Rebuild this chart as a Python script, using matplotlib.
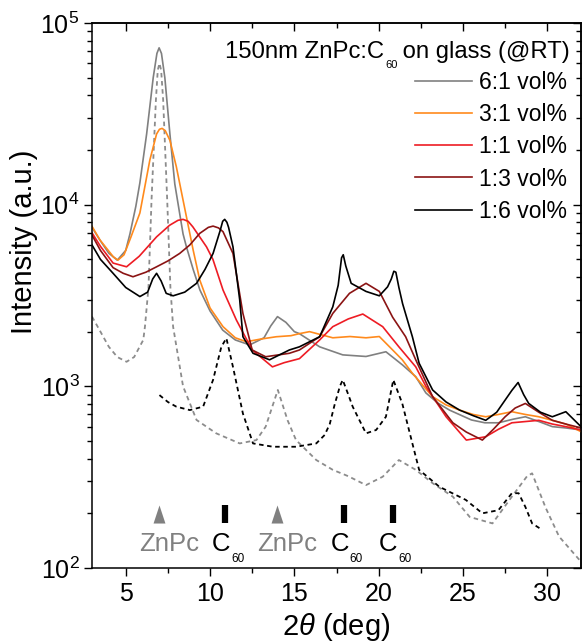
import numpy as np
import matplotlib
matplotlib.use("Agg")
import matplotlib.pyplot as plt
from matplotlib.ticker import AutoMinorLocator, LogLocator, NullFormatter
from matplotlib.path import Path
from matplotlib.transforms import offset_copy

plt.rcParams['font.family'] = ['Liberation Sans', 'DejaVu Sans']
plt.rcParams['mathtext.fontset'] = 'custom'
plt.rcParams['mathtext.rm'] = 'Liberation Sans'
plt.rcParams['mathtext.it'] = 'Liberation Sans:italic'
plt.rcParams['mathtext.bf'] = 'Liberation Sans:bold'

# ---------------- data ----------------
x_61 = [3, 3.47, 4.0, 4.5, 5.0, 5.25, 5.6, 5.84, 6.24, 6.63, 6.85, 6.98, 7.12, 7.32, 7.62, 7.91, 8.4, 8.6,
        9.0, 9.4, 10.0, 10.75, 11.5, 12.35, 13.2, 13.6, 14.0, 14.5, 15.0, 15.3, 16.5, 17.87, 19.25, 20.43,
        21.42, 22.2, 22.8, 23.5, 24.2, 25.5, 26.3, 27.1, 28.0, 28.7, 29.5, 30.3, 31.1, 32]
y_61 = [7500, 6380, 5400, 4950, 5600, 6900, 9800, 13200, 24500, 50000, 68000, 73000, 68000, 50000, 24500,
        13000, 6900, 5860, 4400, 3390, 2600, 2040, 1800, 1690, 1850, 2150, 2420, 2250, 2000, 1950, 1650,
        1490, 1460, 1550, 1310, 1130, 920, 810, 740, 653, 630, 630, 660, 680, 640, 600, 590, 575]

x_31 = [3, 3.47, 4.26, 4.54, 4.9, 5.3, 5.84, 6.43, 6.83, 7.0, 7.16, 7.35, 7.62, 8.0, 8.4, 9.0, 9.39, 10.0,
        10.77, 11.5, 12.15, 13.0, 13.93, 14.8, 15.3, 15.9, 17.28, 18.3, 19.25, 20.04, 20.83, 21.4, 22.0,
        23.2, 24.0, 24.8, 25.6, 26.35, 27.1, 27.9, 28.7, 29.5, 30.3, 31.1, 32]
y_31 = [7600, 6400, 5170, 4950, 5300, 6600, 9000, 17600, 24500, 26000, 26300, 25500, 22600, 16200, 10600,
        5620, 3850, 2700, 2130, 1850, 1760, 1820, 1875, 1900, 1950, 2000, 1850, 1880, 1850, 1880, 1585,
        1400, 1180, 877, 790, 740, 700, 680, 700, 725, 700, 680, 650, 620, 563]

x_11 = [3, 3.5, 4.25, 5.05, 5.8, 6.83, 7.6, 8.1, 8.4, 8.7, 8.98, 9.79, 10.17, 10.77, 11.56, 12.5, 13.7,
        14.4, 15.3, 16.5, 17.28, 18.2, 19.06, 20.24, 21.2, 22.2, 22.8, 24.0, 25.2, 26.35, 27.1, 27.9,
        28.7, 29.5, 30.3, 31.1, 32]
y_11 = [7000, 5900, 4770, 4550, 5200, 6650, 7700, 8200, 8300, 8100, 7550, 5860, 5000, 3390, 2320, 1585,
        1280, 1350, 1420, 1800, 2130, 2350, 2500, 2130, 1650, 1280, 1000, 680, 506, 528, 580, 630, 640,
        650, 620, 600, 575]

x_13 = [3, 3.5, 4.25, 4.85, 5.43, 6.2, 6.83, 7.5, 8.2, 8.8, 9.39, 9.9, 10.18, 10.5, 10.77, 11.36, 11.95,
        12.5, 13.3, 14.7, 15.3, 16.5, 17.28, 18.27, 19.25, 20.04, 20.83, 21.6, 22.2, 23.2, 24.4, 25.2,
        26.15, 26.8, 27.5, 28.1, 28.7, 29.5, 30.3, 31.1, 32]
y_13 = [6800, 5600, 4500, 4190, 4010, 4250, 4550, 4900, 5390, 6000, 6950, 7500, 7620, 7450, 7100, 5390,
        2520, 1585, 1455, 1520, 1585, 1875, 2520, 3250, 3690, 3330, 2400, 1875, 1400, 877, 630, 560, 506,
        580, 680, 760, 805, 720, 650, 620, 590]

x_16 = [3, 3.5, 4.25, 5.0, 5.84, 6.3, 6.6, 6.83, 7.1, 7.4, 7.81, 8.5, 9.2, 9.7, 10.18, 10.6, 10.75, 10.87,
        11.0, 11.1, 11.36, 11.76, 11.95, 12.55, 13.53, 14.7, 15.3, 16.5, 17.28, 17.6, 17.8, 17.9, 18.05,
        18.37, 19.25, 20.04, 20.53, 20.75, 20.9, 21.02, 21.2, 21.42, 22.0, 22.4, 23.2, 24.0, 24.8, 25.6,
        26.35, 27.0, 27.5, 27.9, 28.27, 28.6, 28.9, 29.6, 30.3, 31.1, 32]
y_16 = [6000, 5000, 4190, 3500, 3120, 3300, 3900, 4190, 3800, 3250, 3150, 3300, 3690, 4400, 5390, 7200,
        8100, 8300, 8000, 7500, 5860, 2990, 1875, 1520, 1400, 1585, 1650, 1875, 2740, 3600, 5100, 5300,
        4600, 3690, 3330, 3150, 3530, 3900, 4300, 4250, 3500, 2850, 1875, 1340, 955, 820, 740, 690, 650,
        720, 840, 950, 1050, 900, 805, 720, 680, 725, 600]

x_znpc_ref = [3, 3.5, 4.0, 4.5, 5.05, 5.5, 6.04, 6.14, 6.35, 6.53, 6.79, 6.9, 7.0, 7.1, 7.22, 7.46, 7.65,
              7.81, 8.4, 9.2, 10.37, 11.76, 12.75, 13.3, 14.02, 14.6, 15.1, 16.3, 17.28, 18.2, 19.25,
              20.24, 21.2, 22.2, 23.2, 24.4, 25.4, 26.75, 27.9, 28.8, 29.1, 29.9, 30.7, 31.9]
y_znpc_ref = [2420, 2000, 1650, 1450, 1365, 1450, 1800, 2130, 3500, 10600, 37700, 55000, 60000, 55000,
              37700, 10600, 3500, 2130, 1000, 653, 551, 485, 506, 600, 955, 650, 506, 393, 347, 320, 286,
              318, 393, 347, 293, 247, 191, 176, 247, 320, 332, 215, 149, 111]

x_c60_ref = [7.0, 7.5, 8.0, 8.8, 9.59, 10.18, 10.67, 10.97, 11.36, 11.95, 12.55, 13.73, 15.1, 16.3, 16.8,
             17.1, 17.4, 17.7, 17.87, 18.2, 18.46, 19.25, 19.85, 20.43, 20.87, 21.4, 22.0, 22.4, 23.6,
             25.17, 26.15, 27.1, 27.9, 28.3, 28.7, 29.1, 29.7]
y_c60_ref = [895, 820, 773, 740, 773, 1085, 1650, 1840, 1280, 708, 485, 465, 465, 485, 540, 620, 800,
             1000, 1085, 900, 773, 551, 575, 680, 1085, 805, 485, 347, 280, 237, 200, 208, 258, 258, 217,
             176, 162]

series_labels = ["6:1 vol%", "3:1 vol%", "1:1 vol%", "1:3 vol%", "1:6 vol%"]
title_parts = ["150nm ZnPc:C", "60", " on glass (@RT)"]
znpc_peaks = [7.0, 14.0]
c60_peaks = [10.9, 17.93, 20.83]
marker_level = 198
label_level = 124

# ---------------- figure ----------------
fig = plt.figure(figsize=(5.82, 6.44), dpi=100)
ax_w, ax_h = 581 - 92, 568 - 23
ax = fig.add_axes([92/582, 1-568/644, ax_w/582, ax_h/644])
ax.set_yscale('log')
ax.set_xlim(3, 32)
ax.set_ylim(1e2, 1e5)

lw = 1.2
ax.plot(x_znpc_ref, y_znpc_ref, color='#8c8c8c', lw=1.3, ls=(0, (2.5, 2)))
ax.plot(x_c60_ref, y_c60_ref, color='black', lw=1.3, ls=(0, (2.5, 2)))
h1, = ax.plot(x_61, y_61, color='#808080', lw=lw, label=series_labels[0])
h2, = ax.plot(x_31, y_31, color='#ff8a1c', lw=lw, label=series_labels[1])
h3, = ax.plot(x_11, y_11, color='#ee1c24', lw=lw, label=series_labels[2])
h4, = ax.plot(x_13, y_13, color='#8b1414', lw=lw, label=series_labels[3])
h5, = ax.plot(x_16, y_16, color='black', lw=lw, label=series_labels[4])

# peak markers
tri = Path([(-0.33, -0.5), (0.33, -0.5), (0, 0.5), (-0.33, -0.5)],
           [Path.MOVETO, Path.LINETO, Path.LINETO, Path.CLOSEPOLY])
ax.plot(znpc_peaks, [marker_level]*len(znpc_peaks), ls='none', marker=tri, ms=13,
        color='#808080', mec='none')
ax.plot(c60_peaks, [marker_level]*len(c60_peaks), ls='none', marker='|', ms=13,
        mew=4.5, color='black')
for p in znpc_peaks:
    ax.text(p + 0.6, label_level, "ZnPc", color='#808080', fontsize=18.5,
            ha='center', va='baseline')
for p in c60_peaks:
    ax.text(p, label_level, "C", color='black', fontsize=18.5, ha='right', va='baseline',
            transform=offset_copy(ax.transData, fig, x=5, y=0, units='dots'))
    ax.text(p, label_level, "60", color='black', fontsize=8.5, ha='left', va='baseline',
            transform=offset_copy(ax.transData, fig, x=6, y=-11, units='dots'))

# axes styling
for s in ax.spines.values():
    s.set_linewidth(1.1)
ax.xaxis.set_minor_locator(AutoMinorLocator(2))
ax.tick_params(which='both', direction='out', width=1.0, labelsize=18,
               top=False, right=False)
ax.tick_params(which='major', length=6)
ax.tick_params(which='minor', length=3.5)
ax.tick_params(axis='y', pad=3)
ax.tick_params(axis='x', pad=4)

secx = ax.secondary_xaxis('top')
secx.xaxis.set_minor_locator(AutoMinorLocator(2))
secx.tick_params(which='both', direction='in', width=1.0, labeltop=False)
secx.tick_params(which='major', length=6)
secx.tick_params(which='minor', length=3.5)
secx.spines['top'].set_linewidth(1.1)

secy = ax.secondary_yaxis('right')
secy.yaxis.set_major_locator(LogLocator(base=10))
secy.yaxis.set_minor_locator(LogLocator(base=10, subs=np.arange(2, 10)))
secy.yaxis.set_minor_formatter(NullFormatter())
secy.tick_params(which='both', direction='in', width=1.0, labelright=False)
secy.tick_params(which='major', length=6)
secy.tick_params(which='minor', length=3.5)
secy.spines['right'].set_linewidth(1.1)

ax.set_xlabel(r"2$\theta$ (deg)", fontsize=21, labelpad=4)
ax.set_ylabel("Intensity (a.u.)", fontsize=21)
ax.yaxis.set_label_coords((38 - 92) / ax_w, (568 - 242) / ax_h)

# legend title built right-to-left from pieces (small subscript)
renderer = fig.canvas.get_renderer()
fig_h = 644
title_base = 58  # px from top
t3 = fig.text(570 / 582, 1 - title_base / fig_h, title_parts[2], fontsize=17.2,
              ha='right', va='baseline')
bb3 = t3.get_window_extent(renderer)
t2 = fig.text((bb3.x0 + 1) / 582, 1 - (title_base + 10) / fig_h, title_parts[1], fontsize=8,
              ha='right', va='baseline')
bb2 = t2.get_window_extent(renderer)
t1 = fig.text((bb2.x0 - 1) / 582, 1 - title_base / fig_h, title_parts[0], fontsize=17.2,
              ha='right', va='baseline')

leg = ax.legend(handles=[h1, h2, h3, h4, h5], loc='upper right',
                bbox_to_anchor=((567 - 92) / ax_w, (568 - 71) / ax_h), borderaxespad=0,
                borderpad=0, frameon=False, fontsize=16.5, handlelength=2.5,
                handletextpad=0.3, labelspacing=0.4)

fig.savefig("out.png", dpi=100)
